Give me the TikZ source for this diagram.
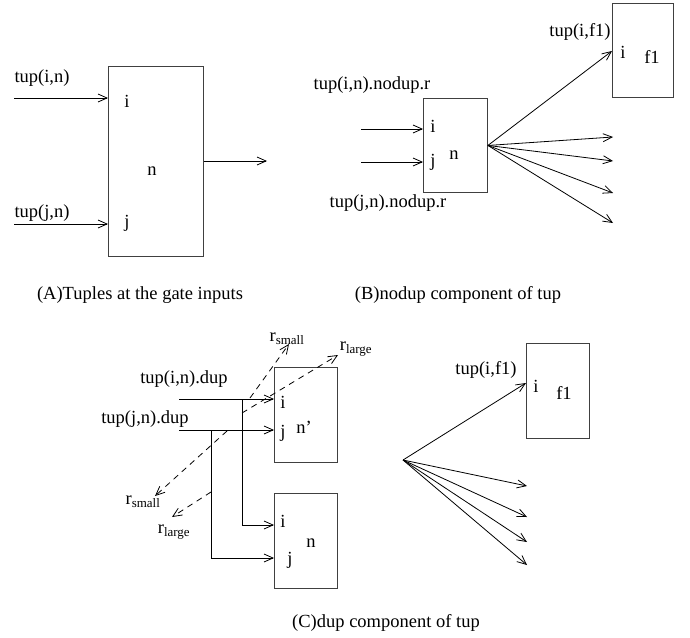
\documentclass[tikz,border=0pt]{standalone}
\usepackage{fontspec}
\setmainfont{Liberation Serif}
\usetikzlibrary{arrows.meta}

\newcommand{\labfont}{\fontsize{18.5}{22}\selectfont}

\begin{document}
\begin{tikzpicture}[x=1pt, y=-1pt,
    gate/.style={draw=black!75, line width=0.9pt, inner sep=0pt, anchor=north west},
    wire/.style={line width=0.8pt, -{Straight Barb[length=9pt,width=8pt]}},
    rwire/.style={wire, dash pattern=on 6pt off 5pt},
    every node/.style={font=\labfont, inner sep=1pt}]

    \useasboundingbox (0,0) rectangle (690,637);

    % (A) gate n with its two inputs
    \node[gate, minimum width=95, minimum height=190] (gA) at (108,66) {};
    \node (Ai) at (127,101) {i};
    \node (Aj) at (127,223) {j};
    \node (An) at (152,171) {n};
    \node (Atupi) at (42,78) {tup(i,n)};
    \node (Atupj) at (42,213) {tup(j,n)};

    \coordinate (Ain) at (14,98);
    \coordinate (Ajn) at (14,224);
    \coordinate (Aout) at (267,161);
    \draw[wire] (Ain) -- (Ain -| gA.west);
    \draw[wire] (Ajn) -- (Ajn -| gA.west);
    \draw[wire] (Aout -| gA.east) -- (Aout);

    \node (capA) at (140,295) {(A)Tuples at the gate inputs};

    % (B) nodup component
    \node[gate, minimum width=64, minimum height=94] (gB) at (423,98) {};
    \node (Bi) at (433,126) {i};
    \node (Bj) at (433,162) {j};
    \node (Bn) at (454,155) {n};
    \node (Btupi) at (372,85) {tup(i,n).nodup.r};
    \node (Btupj) at (388,203) {tup(j,n).nodup.r};

    \coordinate (Bin) at (361,129);
    \coordinate (Bjn) at (361,162);
    \draw[wire] (Bin) -- (Bin -| gB.west);
    \draw[wire] (Bjn) -- (Bjn -| gB.west);

    % fanout of n
    \node[gate, minimum width=61, minimum height=94] (gBf) at (612,3) {};
    \node (Bfi) at (623,52) {i};
    \node (Bff) at (652,57) {f1};
    \node (Btupf) at (580,32) {tup(i,f1)};

    \coordinate (Bfin) at (612,51);
    \draw[wire] (gB.east) -- (Bfin);
    \foreach \y [count=\k] in {137,161,193,223} {
        \coordinate (Bo\k) at (613,\y);
        \draw[wire] (gB.east) -- (Bo\k);
    }

    \node (capB) at (458,295) {(B)nodup component of tup};

    % (C) dup component: copies n' and n
    \node[gate, minimum width=63, minimum height=95] (gNp) at (274,367) {};
    \node (Cpi) at (283,402) {i};
    \node (Cpj) at (283,433) {j};
    \node (Cpn) at (304,427) {n'};

    \node[gate, minimum width=63, minimum height=95] (gN) at (274,493) {};
    \node (Cni) at (283,521) {i};
    \node (Cnj) at (290,560) {j};
    \node (Cnn) at (311,543) {n};

    \node (Ctupi) at (184,379) {tup(i,n).dup};
    \node (Ctupj) at (145,419) {tup(j,n).dup};

    \coordinate (Cin) at (179,399);
    \coordinate (Cjn) at (179,430);
    \coordinate (Cis) at (242,399);
    \coordinate (Cjs) at (211,430);
    \coordinate (Cib) at (242,525);
    \coordinate (Cjb) at (211,558);
    \draw[wire] (Cin) -- (Cin -| gNp.west);
    \draw[wire] (Cjn) -- (Cjn -| gNp.west);
    \draw[wire] (Cis) -- (Cib) -- (Cib -| gN.west);
    \draw[wire] (Cjs) -- (Cjb) -- (Cjb -| gN.west);

    % r_small and r_large
    \coordinate (rsa) at (250,398);
    \coordinate (rla) at (242,413);
    \coordinate (rsb) at (227,431);
    \coordinate (rlb) at (211,492);
    \coordinate (rsat) at (289,344);
    \coordinate (rlat) at (338,355);
    \coordinate (rsbt) at (155,496);
    \coordinate (rlbt) at (172,517);
    \draw[rwire] (rsa) -- (rsat);
    \draw[rwire] (rla) -- (rlat);
    \draw[rwire] (rsb) -- (rsbt);
    \draw[rwire] (rlb) -- (rlbt);
    \node (rsA) at (287,339) {r\textsubscript{small}};
    \node (rlA) at (356,349) {r\textsubscript{large}};
    \node (rsB) at (143,502) {r\textsubscript{small}};
    \node (rlB) at (174,532) {r\textsubscript{large}};

    % fanout of the copies
    \node[gate, minimum width=63, minimum height=95] (gCf) at (526,343) {};
    \node (Cfi) at (536,386) {i};
    \node (Cff) at (564,393) {f1};
    \node (Ctupf) at (486,370) {tup(i,f1)};

    \coordinate (Cfan) at (403,460);
    \coordinate (Cfin) at (526,383);
    \draw[wire] (Cfan) -- (Cfin);
    \foreach \y [count=\k] in {486,517,542,565} {
        \coordinate (Co\k) at (527,\y);
        \draw[wire] (Cfan) -- (Co\k);
    }

    \node (capC) at (386,623) {(C)dup component of tup};

\end{tikzpicture}
\end{document}
